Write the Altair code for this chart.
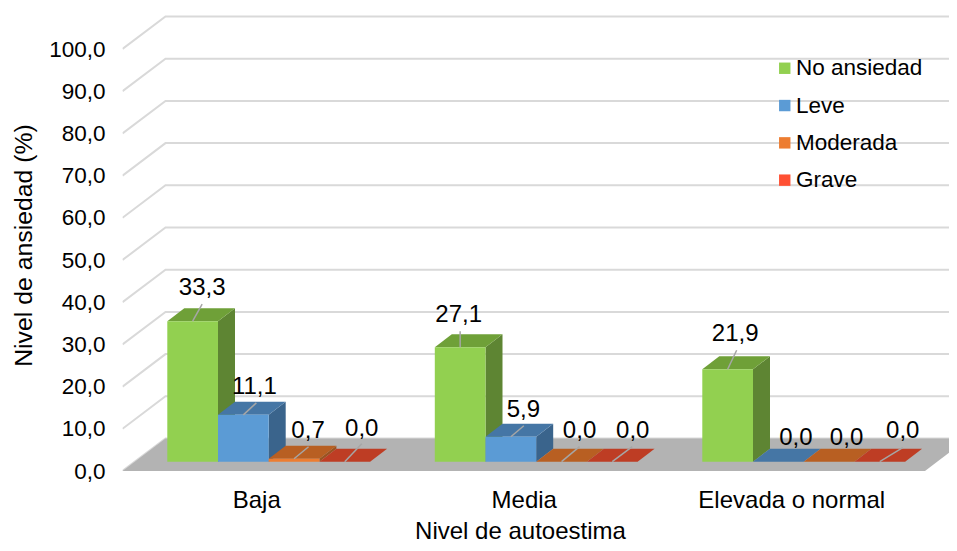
import altair as alt
import pandas as pd

categories = ["Baja", "Media", "Elevada o normal"]
series = ["No ansiedad", "Leve", "Moderada", "Grave"]
no_ansiedad = [33.3, 27.1, 21.9]
leve = [11.1, 5.9, 0.0]
moderada = [0.7, 0.0, 0.0]
grave = [0.0, 0.0, 0.0]
front_colors = ["#92D050", "#5B9BD5", "#ED7D31", "#FF5033"]
side_colors = ["#5E8533", "#3A648C", "#9A5320", "#A53520"]
top_colors = ["#6FA038", "#4576A5", "#B85F22", "#BE3D24"]
ticks = [0, 10, 20, 30, 40, 50, 60, 70, 80, 90, 100]

# label offsets from each bar's front-top centre, in pixels (series by category)
label_dx = [[9.5, 11, 14, 17], [-1.5, 12.5, 18, 20.5], [7.5, 17.5, 17.5, 23]]
label_dy = [[-33, -28, -28, -33], [-32, -27, -31, -31], [-35, -24, -24, -31]]
leader_dx = [[9.5, 13, 14.5, 17], [0, 13, 18, 20], [9, 0, 0, 23]]
leader_dy = [[-17, -12, -12, -18], [-16, -11, -15, -15], [-19, 0, 0, -14]]

# geometry of the pseudo-3D projection
PX_CAT = 267.5          # pixels per category
PX_PCT = 4.22           # pixels per percent
W, H = 826.5, 463
X_MAX, Y_MAX = W / PX_CAT, H / PX_PCT
WALL_DX, WALL_DY = 43 / PX_CAT, 32.5 / PX_PCT
BAR_W = 50.7 / PX_CAT
BAR_DX, BAR_DY = 17 / PX_CAT, 13 / PX_PCT
BAR_X0 = 44.8 / PX_CAT
BASE = 9.3 / PX_PCT

values = [no_ansiedad, leve, moderada, grave]
front, side, top, lab, lead, grid = [], [], [], [], [], []
for c, cat in enumerate(categories):
    for s, name in enumerate(series):
        v = values[s][c]
        x0 = c + BAR_X0 + s * BAR_W
        x1 = x0 + BAR_W
        yt = BASE + v
        bid = f"{c}-{s}"
        front.append(dict(x=x0, x2=x1, y=BASE, y2=yt, series=name))
        side.append(dict(id=bid, x=x1, y=BASE, y2=yt, fill=side_colors[s]))
        side.append(dict(id=bid, x=x1 + BAR_DX, y=BASE + BAR_DY, y2=yt + BAR_DY, fill=side_colors[s]))
        top.append(dict(id=bid, x=x0, x2=x1, y=yt, fill=top_colors[s]))
        top.append(dict(id=bid, x=x0 + BAR_DX, x2=x1 + BAR_DX, y=yt + BAR_DY, fill=top_colors[s]))
        cx = (x0 + x1) / 2
        lab.append(dict(x=cx + label_dx[c][s] / PX_CAT, y=yt - label_dy[c][s] / PX_PCT,
                        t=f"{v:.1f}".replace(".", ",")))
        if leader_dy[c][s] != 0:
            lead.append(dict(id=bid, o=0, x=cx, y=yt))
            lead.append(dict(id=bid, o=1, x=cx + leader_dx[c][s] / PX_CAT, y=yt - leader_dy[c][s] / PX_PCT))

for t in ticks:
    grid.append(dict(id=t, o=0, x=0, y=t))
    grid.append(dict(id=t, o=1, x=WALL_DX, y=t + WALL_DY))
    grid.append(dict(id=t, o=2, x=X_MAX, y=t + WALL_DY))

floor = [dict(x=0, x2=3, y=0), dict(x=WALL_DX, x2=3 + WALL_DX, y=WALL_DY)]

FONT = "Liberation Sans"
cat_expr = "datum.value < 1 ? '%s' : datum.value < 2 ? '%s' : '%s'" % tuple(categories)

xs = alt.Scale(domain=[0, X_MAX], nice=False, zero=False)
ys = alt.Scale(domain=[0, Y_MAX], nice=False, zero=False)
x_axis = alt.Axis(
    values=[0.5, 1.5, 2.5], labelExpr=cat_expr, title="Nivel de autoestima", grid=False,
    domain=False, ticks=False, labelPadding=17.5, labelFontSize=24, labelLimit=400, labelFont=FONT, labelColor="#000000",
    titleFontSize=24, titleFont=FONT, titleFontWeight="normal", titleColor="#000000",
    titleX=397.5, titleY=60, titleAnchor="middle", titleAlign="center", titleBaseline="middle")
y_axis = alt.Axis(
    values=ticks, labelExpr="replace(format(datum.value, '.1f'), '.', ',')", title="Nivel de ansiedad (%)",
    grid=False, domain=False, ticks=False, labelPadding=17.5, labelFontSize=22.5, labelFont=FONT,
    labelColor="#000000", titleFontSize=24.8, titleFont=FONT, titleFontWeight="normal", titleColor="#000000",
    titleX=-98.5, titleY=237, titleAngle=270, titleAlign="center", titleBaseline="middle")
X = alt.X("x:Q", scale=xs, axis=x_axis)
Y = alt.Y("y:Q", scale=ys, axis=y_axis)

grid_layer = alt.Chart(pd.DataFrame(grid)).mark_line(color="#D9D9D9", strokeWidth=2, clip=True).encode(
    x=X, y=Y, detail="id:N", order="o:Q")

floor_layer = alt.Chart(pd.DataFrame(floor)).mark_area(orient="horizontal", color="#B3B3B3", clip=True).encode(
    x=X, x2="x2:Q", y=Y)

side_layer = alt.Chart(pd.DataFrame(side)).mark_area().encode(
    x=X, y=Y, y2="y2:Q", detail="id:N", fill=alt.Fill("fill:N", scale=None))

top_layer = alt.Chart(pd.DataFrame(top)).mark_area(orient="horizontal").encode(
    x=X, x2="x2:Q", y=Y, detail="id:N", fill=alt.Fill("fill:N", scale=None))

front_layer = alt.Chart(pd.DataFrame(front)).mark_rect().encode(
    x=X, x2="x2:Q", y=Y, y2="y2:Q",
    color=alt.Color("series:N", scale=alt.Scale(domain=series, range=front_colors), sort=series,
                    legend=alt.Legend(orient="none", legendX=651, legendY=49, title=None,
                                      symbolType="square", symbolSize=130, symbolStrokeWidth=0,
                                      labelFontSize=22.5, labelFont=FONT, labelColor="#000000",
                                      labelOffset=0, rowPadding=14.3, symbolOpacity=1)))

lead_layer = alt.Chart(pd.DataFrame(lead)).mark_line(color="#A6A6A6", strokeWidth=1.5).encode(
    x=X, y=Y, detail="id:N", order="o:Q")

text_layer = alt.Chart(pd.DataFrame(lab)).mark_text(font=FONT, fontSize=24, color="#000000", baseline="middle").encode(
    x=X, y=Y, text="t:N")

chart = alt.layer(grid_layer, floor_layer, side_layer, top_layer, front_layer, lead_layer, text_layer).properties(
    width=W, height=H, autosize=alt.AutoSizeParams(type="none"),
    padding={"left": 114.5, "top": 0, "right": 0, "bottom": 72},
).configure_view(stroke=None)

chart.save("out.html", embed_options={"renderer": "svg", "actions": False})
